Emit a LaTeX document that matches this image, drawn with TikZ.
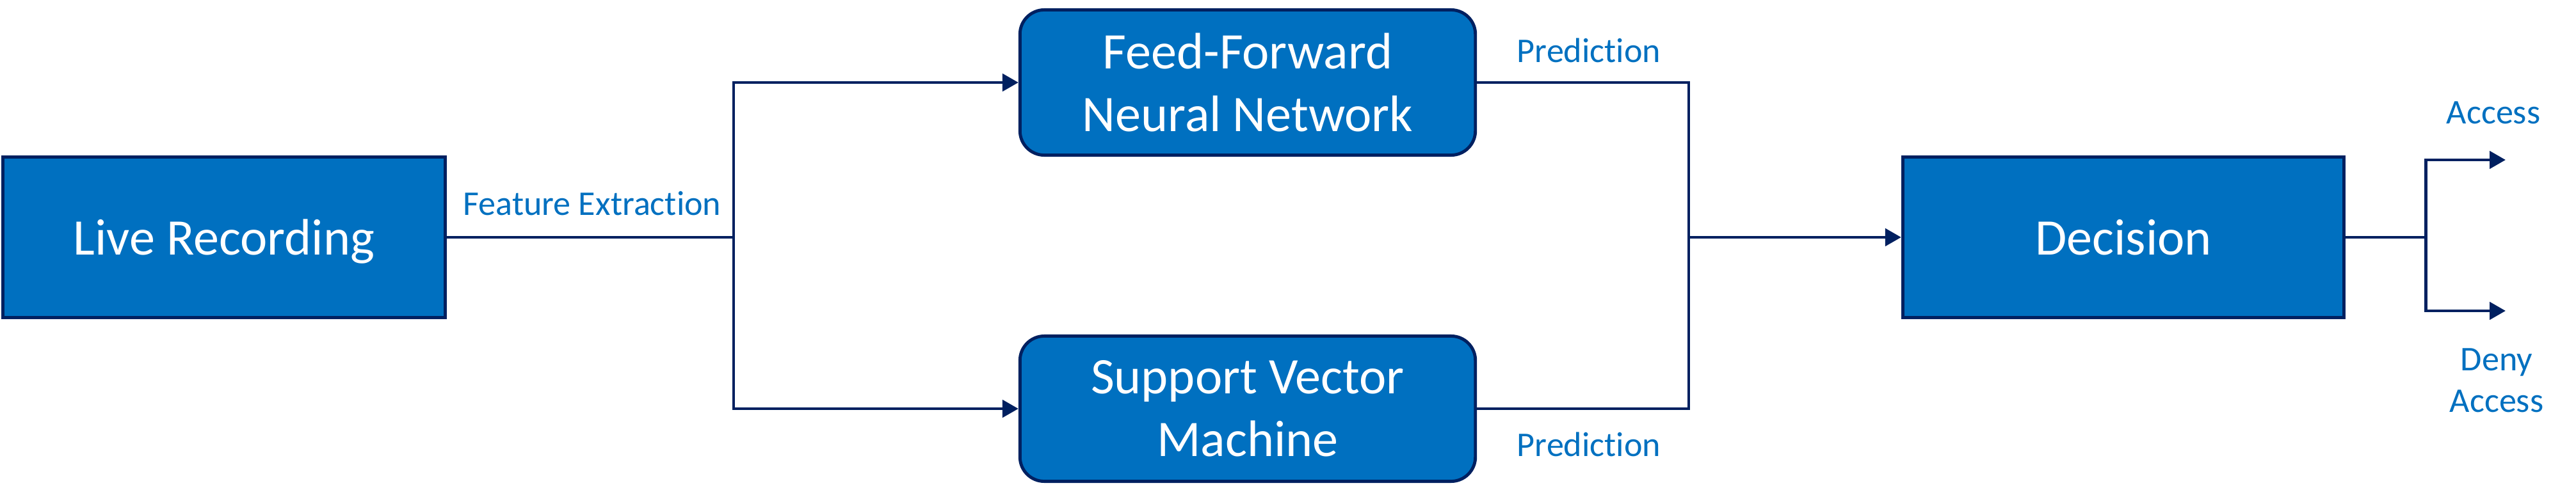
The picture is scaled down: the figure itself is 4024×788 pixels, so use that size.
\documentclass[tikz,border=0pt]{standalone}
\usepackage{fontspec}
\setmainfont{Carlito}[Ligatures=NoCommon]
\usepackage{tikz}
\usetikzlibrary{arrows.meta, positioning, shapes, calc}

\definecolor{boxblue}{HTML}{0070C0}
\definecolor{navy}{HTML}{002060}

\begin{document}
\begin{tikzpicture}[x=0.01cm, y=-0.01cm,
    box/.style={draw=navy, line width=1.4pt, fill=boxblue, text=white, align=center,
        inner sep=0pt, font=\fontsize{22.8}{27.8}\selectfont},
    rbox/.style={box, rounded corners=0.38cm},
    lbl/.style={text=boxblue, align=center, inner sep=0pt, font=\fontsize{15.4}{18.5}\selectfont},
    link/.style={draw=navy, line width=1.4pt},
    arr/.style={link, -{Triangle[length=7.1pt, width=7.7pt]}}]
    \useasboundingbox (0,0) rectangle (4024,788);

    % Boxes
    \node[box, text depth=0pt, minimum width=6.90cm, minimum height=2.50cm] (rec) at (350,371) {Live Recording};
    \node[rbox, minimum width=7.11cm, minimum height=2.27cm] (ffnn) at (1949,129) {Feed-Forward\\Neural Network};
    \node[rbox, minimum width=7.11cm, minimum height=2.27cm] (svm) at (1949,639) {Support Vector\\Machine};
    \node[box, minimum width=6.89cm, minimum height=2.51cm] (dec) at (3317,371) {Decision};

    % Branch points
    \coordinate (split) at (1146,371);
    \coordinate (merge) at (2638,371);
    \coordinate (fork) at (3789,371);
    \coordinate (acc) at (3914,250);
    \coordinate (deny) at (3914,486);

    % Connectors
    \draw[link] (rec.east) -- (split);
    \draw[arr] (split) |- (ffnn.west);
    \draw[arr] (split) |- (svm.west);
    \draw[link] (ffnn.east) -| (merge);
    \draw[link] (svm.east) -| (merge);
    \draw[arr] (merge) -- (dec.west);
    \draw[link] (dec.east) -- (fork);
    \draw[arr] (fork) |- (acc);
    \draw[arr] (fork) |- (deny);

    % Labels
    \node[lbl, anchor=base] (fe) at (925,337) {Feature Extraction};
    \node[lbl, anchor=base] (pred1) at (2482,98) {Prediction};
    \node[lbl, anchor=base] (pred2) at (2482,713) {Prediction};
    \node[lbl, anchor=base] (allow) at (3895,194) {Access};
    \node[lbl, anchor=north] (refuse) at (3900,544) {Deny\\Access};
\end{tikzpicture}
\end{document}
